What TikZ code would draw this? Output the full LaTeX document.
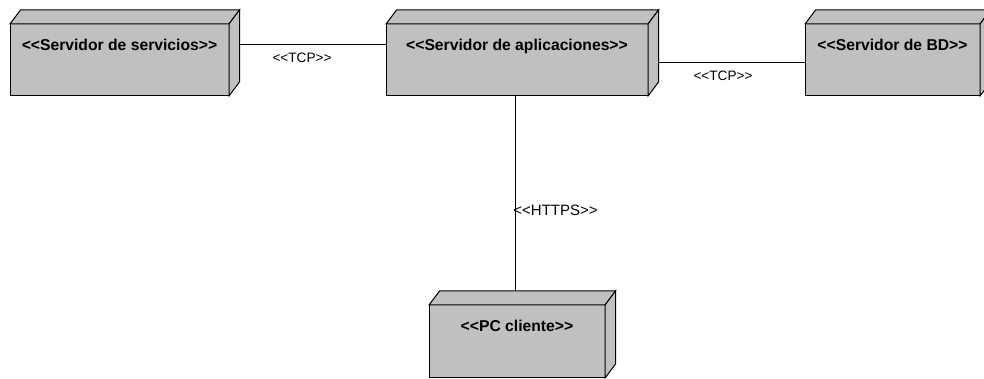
\documentclass[tikz,border=0pt]{standalone}
\usepackage{fontspec}
\setmainfont{Liberation Sans}[Ligatures=TeXOff]
\usetikzlibrary{calc}
\definecolor{boxgray}{RGB}{192,192,192}
\tikzset{
  umlbox/.style={draw=black, fill=boxgray, line width=1pt, rectangle, inner sep=0pt, outer sep=0pt, minimum height=72pt},
  boxtext/.style={anchor=base, inner sep=0pt, font=\fontsize{15.7}{18}\selectfont\bfseries},
  conntext/.style={anchor=base, inner sep=0pt, font=\fontsize{13.6}{16}\selectfont},
  conn/.style={draw=black, line width=0.9pt},
  face/.style={draw=black, fill=boxgray, line width=1pt, line join=miter}
}
\newcommand{\extrudebox}[1]{%
  \path[face] (#1.north west) -- ++(10.5pt,14pt) -- ($(#1.north east)+(10.5pt,14pt)$) -- (#1.north east) -- cycle;
  \path[face] (#1.north east) -- ++(10.5pt,14pt) -- ($(#1.south east)+(10.5pt,14pt)$) -- (#1.south east) -- cycle;
}
\begin{document}
\begin{tikzpicture}[x=1pt,y=1pt]
\useasboundingbox (0,0) rectangle (984,379);
% boxes
\node[umlbox, minimum width=219pt] (ss) at (119.5,319) {};
\node[umlbox, minimum width=262pt] (sa) at (517,319) {};
\node[umlbox, minimum width=175pt] (bd) at (892.5,319) {};
\node[umlbox, minimum width=176pt, minimum height=73pt] (pc) at (517,37.5) {};
\extrudebox{ss}
\extrudebox{sa}
\extrudebox{bd}
\extrudebox{pc}
% texts
\node[boxtext] (ssT) at ([yshift=-27pt]ss.north) {<<Servidor de servicios>>};
\node[boxtext] (saT) at ([yshift=-27pt]sa.north) {<<Servidor de aplicaciones>>};
\node[boxtext] (bdT) at ([yshift=-27pt]bd.north) {<<Servidor de BD>>};
\node[boxtext] (pcT) at ([yshift=-27pt]pc.north) {<<PC cliente>>};
% connectors
\coordinate (pctop) at ([yshift=14pt]pc.north);
\draw[conn] ([xshift=11pt,yshift=-20pt]ss.north east) -- ([yshift=-20pt]sa.north west);
\draw[conn] ([xshift=10.5pt,yshift=-38pt]sa.north east) -- ([yshift=-38pt]bd.north west);
\draw[conn] ([xshift=-2pt]sa.south) -- ([xshift=-2pt]sa.south |- pctop);
% connector labels
\node[conntext] (l1) at (302,316) {<<TCP>>};
\node[conntext] (l2) at (723,298) {<<TCP>>};
\node[conntext, font=\fontsize{15}{17}\selectfont] (l3) at (555.5,163) {<<HTTPS>>};
\end{tikzpicture}
\end{document}
